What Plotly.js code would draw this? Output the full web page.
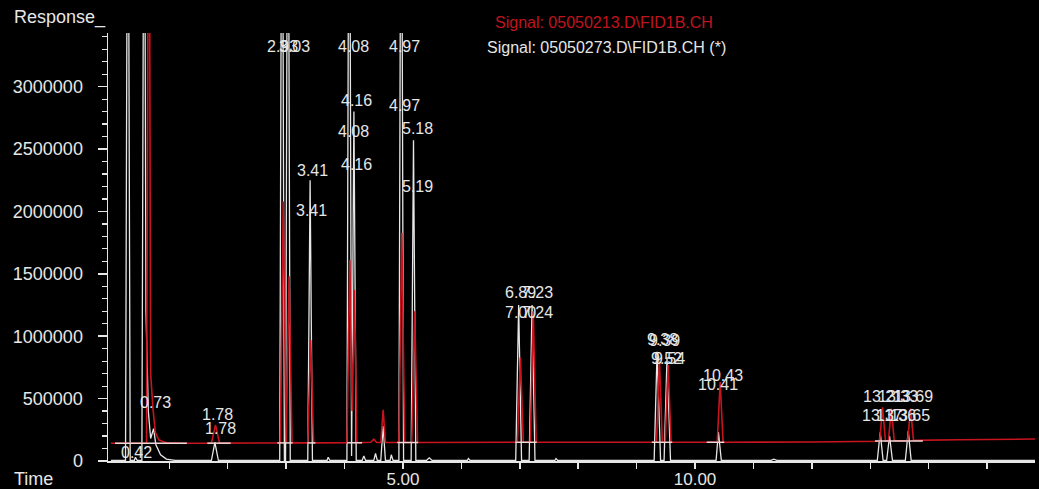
<!DOCTYPE html>
<html>
<head>
<meta charset="utf-8">
<script src="https://cdn.plot.ly/plotly-3.0.1.min.js"></script>
<style>html,body{margin:0;padding:0;background:#000;}#chart{width:1039px;height:489px;}</style>
</head>
<body>
<div id="chart"></div>
<script>
// ---- Data ----
// White trace: Signal 05050273.D\FID1B.CH (*)
var whiteTime = [0.00, 0.25, 0.29, 0.33, 0.40, 0.42, 0.45, 0.53, 0.57, 0.60, 0.64, 0.68, 0.73, 0.77, 0.85, 0.95, 1.10,
  1.72, 1.78, 1.84,
  2.89, 2.93, 2.97, 2.99, 3.03, 3.07,
  3.37, 3.41, 3.45, 3.70, 3.72, 3.75,
  4.04, 4.08, 4.12, 4.16, 4.20,
  4.30, 4.33, 4.36, 4.50, 4.53, 4.56, 4.62, 4.66, 4.70, 4.78, 4.80, 4.83,
  4.93, 4.97, 5.01, 5.14, 5.18, 5.22,
  5.40, 5.45, 5.50, 6.10, 6.12, 6.15,
  6.93, 6.98, 7.03, 7.16, 7.21, 7.26, 7.60, 7.62, 7.65,
  9.30, 9.35, 9.41, 9.47, 9.52, 9.58,
  10.36, 10.40, 10.45, 11.30, 11.35, 11.40,
  13.12, 13.17, 13.22, 13.28, 13.33, 13.38, 13.60, 13.65, 13.70, 15.82];
var whiteResp = [4000, 4000, 6000000, 4000, 4000, 30000, 4000, 4000, 6000000, 1200000, 400000, 180000, 260000, 130000, 50000, 15000, 5000,
  4000, 150000, 4000,
  4000, 6000000, 6000, 6000, 6000000, 4000,
  4000, 2250000, 4000, 4000, 30000, 4000,
  4000, 6000000, 40000, 2800000, 4000,
  5000, 40000, 5000, 5000, 60000, 5000, 4000, 280000, 4000, 5000, 50000, 5000,
  4000, 6000000, 4000, 4000, 2570000, 4000,
  4000, 25000, 4000, 4000, 20000, 4000,
  4000, 1250000, 4000, 4000, 1250000, 4000, 4000, 20000, 4000,
  4000, 875000, 4000, 4000, 825000, 4000,
  4000, 232000, 4000, 5000, 15000, 5000,
  4000, 230000, 4000, 4000, 200000, 4000, 4000, 240000, 4000, 4000];

// Red trace: Signal 05050213.D\FID1B.CH
var redTime = [0.00, 0.61, 0.65, 0.68, 0.72, 0.76, 0.82, 0.95, 1.20,
  1.72, 1.79, 1.86,
  2.90, 2.95, 3.00, 3.05, 3.10,
  3.37, 3.42, 3.47,
  4.04, 4.09, 4.13, 4.17, 4.21,
  4.45, 4.50, 4.55, 4.62, 4.66, 4.70,
  4.93, 4.98, 5.03, 5.15, 5.20, 5.25,
  6.96, 7.01, 7.06, 7.18, 7.23, 7.28,
  9.34, 9.39, 9.44, 9.49, 9.54, 9.59,
  10.38, 10.43, 10.48, 12.00, 13.00,
  13.16, 13.21, 13.26, 13.31, 13.36, 13.41, 13.64, 13.69, 13.74, 14.50, 15.82];
var redResp = [142000, 142000, 6000000, 700000, 420000, 230000, 170000, 145000, 142000,
  143000, 290000, 143000,
  145000, 2080000, 150000, 1480000, 145000,
  145000, 970000, 145000,
  146000, 1610000, 400000, 1370000, 146000,
  150000, 175000, 148000, 148000, 410000, 148000,
  148000, 1830000, 148000, 148000, 1200000, 148000,
  150000, 830000, 150000, 150000, 1200000, 150000,
  150000, 810000, 150000, 150000, 770000, 150000,
  150000, 633000, 150000, 152000, 158000,
  158000, 430000, 160000, 160000, 420000, 162000, 162000, 420000, 165000, 170000, 176000];

// Integration baseline markers drawn on the red baseline
var markStart = [0.07, 1.65, 2.85, 3.36, 4.04, 4.90, 6.92, 9.26, 10.20, 13.08];
var markEnd   = [1.30, 2.05, 3.11, 3.50, 4.30, 5.26, 7.29, 9.61, 10.50, 13.90];
var markLevel = [143000, 143000, 145000, 145000, 146000, 148000, 150000, 150000, 150000, 160000];

// Peak retention-time labels
var labelText = ['0.42', '0.73', '1.78', '1.78', '2.93', '3.03', '4.08', '4.97', '4.16', '4.08', '4.16', '4.97', '5.18', '5.19',
  '3.41', '3.41', '6.89', '7.23', '7.00', '7.24', '9.38', '9.39', '9.52', '9.54', '10.43', '10.41',
  '13.21', '13.33', '13.69', '13.17', '13.36', '13.65'];
var labelTime = [0.445, 0.77, 1.83, 1.87, 2.945, 3.15, 4.16, 5.02, 4.21, 4.16, 4.21, 5.02, 5.24, 5.24,
  3.45, 3.44, 7.02, 7.31, 7.02, 7.31, 9.44, 9.47, 9.51, 9.57, 10.48, 10.40,
  13.22, 13.47, 13.73, 13.20, 13.44, 13.68];
var labelResp = [72000, 465000, 369000, 264000, 3318000, 3318000, 3318000, 3318000, 2893000, 2637000, 2380000, 2853000, 2661000, 2196000,
  2332000, 2011000, 1354000, 1354000, 1194000, 1194000, 970000, 962000, 825000, 818000, 689000, 617000,
  513000, 513000, 513000, 361000, 361000, 361000];

// Axis ticks
var xTickVals = [1, 2, 3, 4, 5, 6, 7, 8, 9, 10, 11, 12, 13, 14, 15];
var xTickText = ['', '', '', '', '5.00', '', '', '', '', '10.00', '', '', '', '', ''];
var legendText = ['Signal: 05050213.D\\FID1B.CH', 'Signal: 05050273.D\\FID1B.CH (*)'];

// ---- Build plot ----
var mx = [], my = [];
for (var i = 0; i < markStart.length; i++) {
  mx.push(markStart[i], markEnd[i], null);
  my.push(markLevel[i], markLevel[i], null);
}

var traces = [
  {x: whiteTime, y: whiteResp, type: 'scatter', mode: 'lines', line: {color: '#e6e6e6', width: 1.3}, hoverinfo: 'skip'},
  {x: redTime, y: redResp, type: 'scatter', mode: 'lines', line: {color: '#c8141e', width: 1.6}, hoverinfo: 'skip'},
  {x: mx, y: my, type: 'scatter', mode: 'lines', line: {color: '#f0d8d8', width: 1.5}, hoverinfo: 'skip', connectgaps: false}
];

var FONT = 'Liberation Sans, Arial, sans-serif';
var annotations = [];
for (var j = 0; j < labelText.length; j++) {
  annotations.push({x: labelTime[j], y: labelResp[j], xref: 'x', yref: 'y', text: labelText[j], showarrow: false,
    font: {family: FONT, size: 16, color: '#e6e6e6'}, xanchor: 'center', yanchor: 'middle'});
}
annotations.push({xref: 'paper', yref: 'paper', x: (12 - 108) / 927, y: (461 - 18) / 428, text: 'Response_', showarrow: false,
  xanchor: 'left', yanchor: 'middle', font: {family: FONT, size: 18, color: '#e6e6e6'}});
annotations.push({xref: 'paper', yref: 'paper', x: (12 - 108) / 927, y: (461 - 479) / 428, text: 'Time', showarrow: false,
  xanchor: 'left', yanchor: 'middle', font: {family: FONT, size: 18, color: '#e6e6e6'}});
annotations.push({xref: 'paper', yref: 'paper', x: (604 - 108) / 927, y: (461 - 23) / 428, text: legendText[0], showarrow: false,
  xanchor: 'center', yanchor: 'middle', font: {family: FONT, size: 16, color: '#c0141e'}});
annotations.push({xref: 'paper', yref: 'paper', x: (606 - 108) / 927, y: (461 - 48) / 428, text: legendText[1], showarrow: false,
  xanchor: 'center', yanchor: 'middle', font: {family: FONT, size: 16, color: '#e6e6e6'}});

var layout = {
  width: 1039, height: 489,
  margin: {l: 108, r: 4, t: 33, b: 28, pad: 0},
  paper_bgcolor: '#000', plot_bgcolor: '#000',
  showlegend: false,
  xaxis: {
    range: [-0.05, 15.82], showgrid: false, zeroline: false,
    showline: true, linecolor: '#e6e6e6', linewidth: 1.5,
    tickmode: 'array', tickvals: xTickVals, ticktext: xTickText,
    ticks: 'outside', ticklen: 6, tickwidth: 1.5, tickcolor: '#e6e6e6',
    ticklabelstandoff: -4,
    tickfont: {family: FONT, size: 17, color: '#e6e6e6'}
  },
  yaxis: {
    range: [0, 3430000], showgrid: false, zeroline: false,
    showline: true, linecolor: '#e6e6e6', linewidth: 1.5,
    tick0: 0, dtick: 500000, tickformat: 'd',
    ticks: 'outside', ticklen: 9, tickwidth: 1.5, tickcolor: '#e6e6e6',
    ticklabelstandoff: 11,
    minor: {dtick: 100000, ticks: 'outside', ticklen: 5, tickwidth: 1.2, tickcolor: '#e6e6e6'},
    tickfont: {family: FONT, size: 18, color: '#e6e6e6'}
  },
  annotations: annotations
};

Plotly.newPlot('chart', traces, layout, {displayModeBar: false, staticPlot: true});
</script>
</body>
</html>
